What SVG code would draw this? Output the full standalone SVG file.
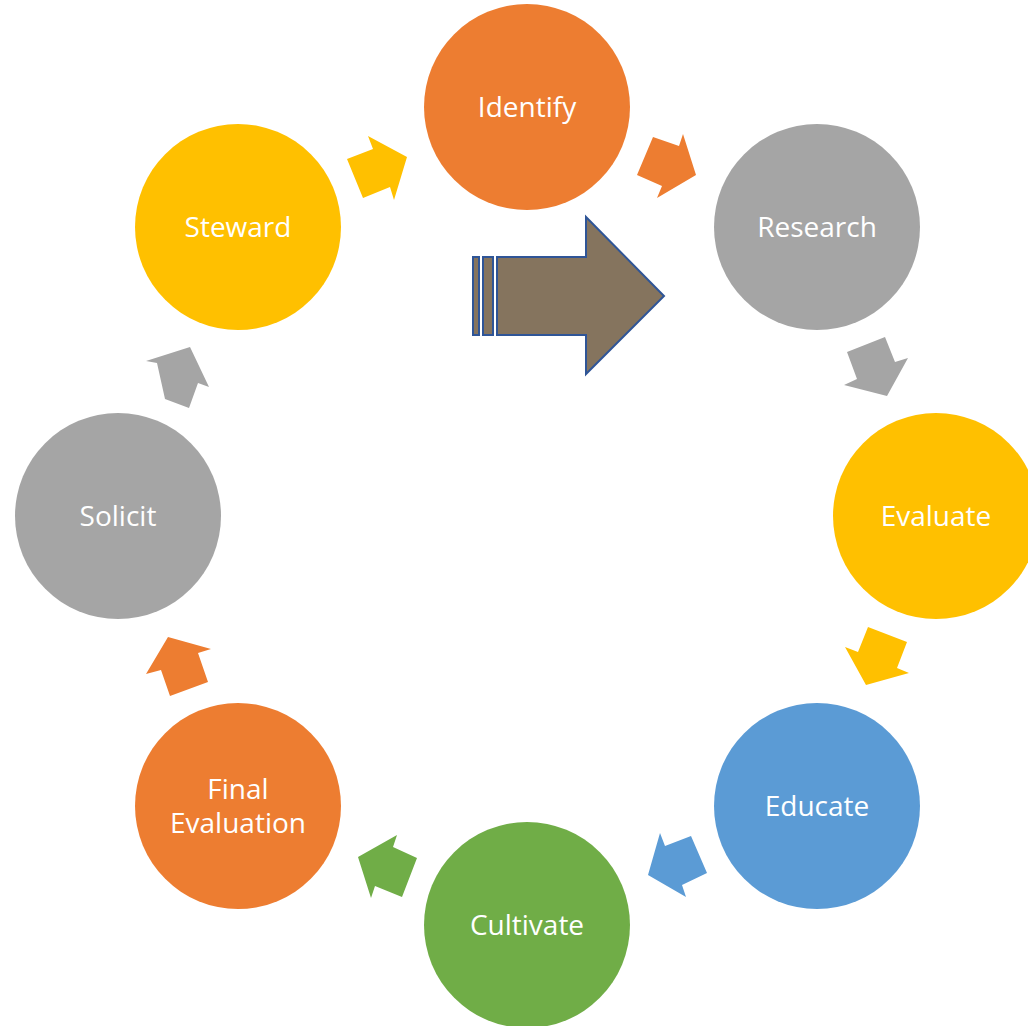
<svg xmlns="http://www.w3.org/2000/svg" width="1028" height="1026" viewBox="0 0 1028 1026">
  <style>
    .lbl { font-family: "Open Sans", "Liberation Sans", sans-serif; font-size: 28px; fill: #ffffff; text-anchor: middle; dominant-baseline: central; }
    .orange { fill: #ED7D31; }
    .gray { fill: #A5A5A5; }
    .gold { fill: #FFC000; }
    .blue { fill: #5B9BD5; }
    .green { fill: #70AD47; }
  </style>
  <rect width="1028" height="1026" fill="#ffffff"/>

  <!-- connectors: small block arrows between the stages -->
  <g id="connectors">
    <polygon class="gold" points="347,159 373,149 368,136 407,157 394,200 390,187 363,198"/>
    <polygon class="orange" points="653,137 679,146 683,134 696,175 657,198 662,186 637,175"/>
    <polygon class="gray" points="847,352 885,337 895,362 908,358 887,396 844,385 857,379"/>
    <polygon class="gold" points="845,647 858,652 868,627 907,642 897,668 909,673 866,685"/>
    <polygon class="blue" points="660,833 665,846 691,836 707,873 682,885 686,897 648,875"/>
    <polygon class="green" points="397,835 393,847 417,858 402,897 375,886 371,898 358,857"/>
    <polygon class="orange" points="168,637 211,649 198,653 208,682 170,696 161,670 146,674"/>
    <polygon class="gray" points="190,347 209,387 198,383 189,408 165,399 157,363 146,361"/>
  </g>

  <!-- central striped arrow -->
  <g id="center-arrow" stroke="#2F5597" stroke-width="2" fill="#85745E">
    <rect x="473" y="257" width="6" height="78"/>
    <rect x="483" y="257" width="10" height="78"/>
    <polygon points="497,257 586,257 586,217 664,296 586,374 586,335 497,335"/>
  </g>

  <g id="identify">
    <circle class="orange" cx="527" cy="107" r="103"/>
    <text class="lbl" x="527" y="106">Identify</text>
  </g>
  <g id="research">
    <circle class="gray" cx="817" cy="227" r="103"/>
    <text class="lbl" x="817" y="226">Research</text>
  </g>
  <g id="evaluate">
    <circle class="gold" cx="936" cy="516" r="103"/>
    <text class="lbl" x="936" y="515">Evaluate</text>
  </g>
  <g id="educate">
    <circle class="blue" cx="817" cy="806" r="103"/>
    <text class="lbl" x="817" y="805">Educate</text>
  </g>
  <g id="cultivate">
    <circle class="green" cx="527" cy="925" r="103"/>
    <text class="lbl" x="527" y="924">Cultivate</text>
  </g>
  <g id="final-evaluation">
    <circle class="orange" cx="238" cy="806" r="103"/>
    <text class="lbl" x="238" y="788">Final</text>
    <text class="lbl" x="238" y="822">Evaluation</text>
  </g>
  <g id="solicit">
    <circle class="gray" cx="118" cy="516" r="103"/>
    <text class="lbl" x="118" y="515">Solicit</text>
  </g>
  <g id="steward">
    <circle class="gold" cx="238" cy="227" r="103"/>
    <text class="lbl" x="238" y="226">Steward</text>
  </g>
</svg>
